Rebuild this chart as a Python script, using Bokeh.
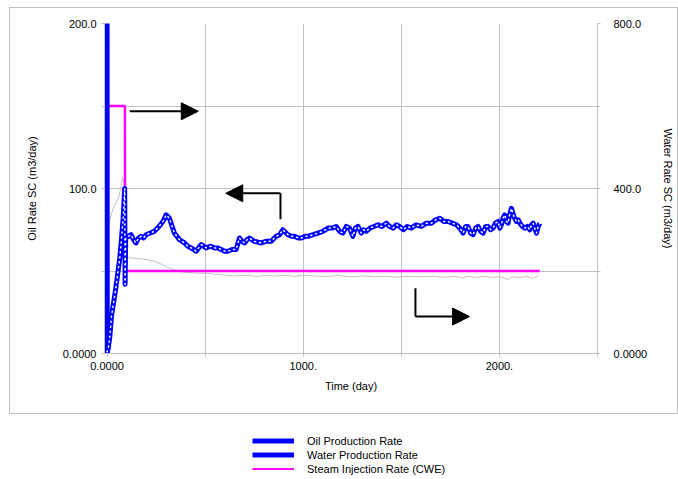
from bokeh.plotting import figure
from bokeh.layouts import column
from bokeh.models import (Range1d, LinearAxis, FixedTicker, Arrow, NormalHead,
                          Legend, LegendItem)
from bokeh.embed import file_html
from bokeh.resources import INLINE

# Oil production rate SC, m3/day (left axis)
oil_days = [0, 6, 14, 23, 40, 52, 65, 74, 82, 90, 92, 95, 108, 122, 135, 148, 160, 173,
            186, 199, 220, 241, 265, 285, 301, 318, 343, 369, 395, 412, 429, 454, 467,
            480, 505, 527, 548, 565, 582, 599, 616, 637, 658, 675, 688, 701, 714, 726,
            750, 786, 810, 837, 862, 880, 896, 922, 940, 956, 975, 990, 1010, 1024,
            1050, 1075, 1100, 1126, 1147, 1168, 1185, 1202, 1220, 1236, 1253, 1266,
            1279, 1296, 1308, 1321, 1340, 1360, 1381, 1400, 1423, 1440, 1458, 1475,
            1491, 1510, 1530, 1551, 1575, 1602, 1628, 1653, 1675, 1696, 1717, 1738,
            1760, 1781, 1798, 1815, 1828, 1840, 1853, 1866, 1879, 1891, 1904, 1917,
            1930, 1942, 1955, 1968, 1980, 1993, 2002, 2010, 2018, 2027, 2036, 2044,
            2052, 2061, 2074, 2087, 2096, 2104, 2117, 2130, 2143, 2155, 2164, 2172,
            2180, 2189, 2198, 2206]
oil_rate = [1, 3, 10, 23, 36, 46, 58, 70, 82, 100, 42, 70, 71, 72, 69, 67, 70, 71,
            70, 72, 73, 74, 77, 80, 84, 82, 73, 69, 67, 65, 64, 62, 64,
            66, 64, 65, 64, 64, 63, 62, 62, 63, 63, 70, 68, 67, 69, 70,
            68, 67, 68, 68, 71, 72, 75, 72, 71, 71, 70, 70, 71, 71,
            72, 73, 74, 76, 76, 77, 74, 73, 77, 76, 71, 76,
            77, 73, 75, 74, 76, 77, 78, 77, 79, 77, 76, 78,
            77, 75, 77, 76, 78, 77, 79, 79, 81, 82, 80, 80,
            79, 78, 76, 73, 77, 77, 73, 72, 76, 77, 74, 73,
            77, 77, 75, 76, 79, 80, 76, 78, 82, 84, 80, 79,
            84, 88, 83, 80, 81, 79, 77, 76, 77, 75, 78, 79,
            76, 73, 77, 79]

# Water production rate SC, m3/day (right axis)
water_days = [0.0, 0.0, 1.0]
water_rate = [0.0, 1000.0, 0.0]

# Steam injection rate (CWE), m3/day (right axis)
steam_days = [0, 91, 92, 2206]
steam_rate = [600, 600, 200, 200]

# Thin grey trace, m3/day (right axis)
trace_days = [11, 20, 32, 45, 57, 68, 79, 88, 92, 120, 160, 200, 241, 280, 310, 343,
              380, 450, 520, 600, 650, 700, 760, 800, 860, 900, 960, 1000, 1060, 1120,
              1180, 1240, 1300, 1360, 1420, 1480, 1540, 1600, 1660, 1720, 1780, 1810,
              1840, 1880, 1920, 1960, 2000, 2030, 2045, 2060, 2100, 2140, 2170, 2200]
trace_rate = [316, 336, 352, 364, 376, 396, 426, 412, 232, 232, 230, 228, 224, 216, 208,
              203, 198, 195, 194, 190, 188, 190, 187, 189, 188, 190, 187, 190, 188, 187,
              189, 186, 188, 186, 187, 185, 187, 186, 187, 185, 187, 183, 187, 184, 187,
              184, 187, 182, 179, 186, 184, 187, 182, 188]

# Axis ticks and their labels
time_ticks = [0, 500, 1000, 1500, 2000, 2500]
time_labels = {0: "0.0000", 500: "", 1000: "1000.", 1500: "", 2000: "2000.", 2500: ""}
oil_ticks = [0, 50, 100, 150, 200]
oil_labels = {0: "0.0000", 50: "", 100: "100.0", 150: "", 200: "200.0"}
water_ticks = [0, 200, 400, 600, 800]
water_labels = {0: "0.0000", 200: "", 400: "400.0", 600: "", 800: "800.0"}

legend_names = ["Oil Production Rate", "Water Production Rate",
                "Steam Injection Rate (CWE)"]

# Annotation arrows (days, left-axis units); the head sits on the last point
arrow_paths = [
    ([116, 465], [146.8, 146.8]),
    ([884, 884, 605], [81.4, 97.1, 97.1]),
    ([1572, 1572, 1848], [39.6, 22.4, 22.4]),
]

FONT = "Liberation Sans"
GRID = "#c0c0c0"
BLUE = "#0000ff"
MAGENTA = "#ff00ff"

OIL_STYLE = dict(line_color=BLUE, line_width=5)
WATER_STYLE = dict(line_color=BLUE, line_width=5)
STEAM_STYLE = dict(line_color=MAGENTA, line_width=2.5)

p = figure(width=669, height=407, output_backend="svg", toolbar_location=None,
           x_range=Range1d(-13, 2500), y_range=Range1d(0, 200),
           min_border_left=94, min_border_right=82, min_border_top=15,
           min_border_bottom=62, background_fill_color="white",
           border_fill_color="white", margin=(7, 0, 0, 9),
           styles={"border": "1px solid #c0c0c0", "box-sizing": "border-box"})
p.outline_line_color = None
p.extra_y_ranges = {"water": Range1d(0, 800)}

# grid
p.xgrid.ticker = FixedTicker(ticks=time_ticks)
p.ygrid.ticker = FixedTicker(ticks=oil_ticks)
for g in (p.xgrid, p.ygrid):
    g.grid_line_color = GRID
    g.grid_line_width = 1

# bottom axis
xa = p.xaxis[0]
xa.ticker = FixedTicker(ticks=time_ticks)
xa.major_label_overrides = time_labels
xa.axis_label = "Time (day)"
xa.major_label_standoff = 5
xa.axis_label_standoff = 7

# left axis
ya = p.yaxis[0]
ya.ticker = FixedTicker(ticks=oil_ticks)
ya.major_label_overrides = oil_labels
ya.axis_label = "Oil Rate SC (m3/day)"
ya.major_label_standoff = 5
ya.axis_label_standoff = 22

# right axis
ra = LinearAxis(y_range_name="water", ticker=FixedTicker(ticks=water_ticks),
                major_label_overrides=water_labels,
                axis_label="Water Rate SC (m3/day)")
ra.major_label_standoff = 13
ra.axis_label_standoff = 12
p.add_layout(ra, "right")

for ax in (xa, ya, ra):
    ax.axis_line_color = GRID
    ax.major_tick_line_color = GRID
    ax.major_tick_in = 0
    ax.major_tick_out = 3
    ax.minor_tick_line_color = None
    ax.major_label_text_font = FONT
    ax.major_label_text_font_size = "11px"
    ax.major_label_text_color = "black"
    ax.axis_label_text_font = FONT
    ax.axis_label_text_font_size = "11px"
    ax.axis_label_text_font_style = "normal"
    ax.axis_label_text_color = "black"

# series
p.line(trace_days, trace_rate, y_range_name="water", line_color="#c0c0c0",
       line_width=1)
p.line(steam_days, steam_rate, y_range_name="water", **STEAM_STYLE)
p.line(water_days, water_rate, y_range_name="water", **WATER_STYLE)
p.line(oil_days, oil_rate, line_join="round", **OIL_STYLE)
# white dotted core along the oil curve
p.line(oil_days, oil_rate, line_color="white", line_width=1.5,
       line_dash="1 4", line_cap="round", line_join="round")

# arrows
for xs, ys in arrow_paths:
    if len(xs) > 2:
        p.line(xs[:-1], ys[:-1], line_color="black", line_width=2,
               line_join="miter")
    p.add_layout(Arrow(x_start=xs[-2], y_start=ys[-2], x_end=xs[-1], y_end=ys[-1],
                       line_color="black", line_width=2,
                       end=NormalHead(size=17, fill_color="black",
                                      line_color="black", line_width=1)))

# legend strip below the chart box; its ranges keep the series out of view so
# only the legend keys show
lg = figure(width=678, height=65, output_backend="svg", toolbar_location=None,
            x_range=Range1d(0, 678), y_range=Range1d(-20, -10), min_border=0,
            background_fill_color="white", border_fill_color="white")
lg.axis.visible = False
lg.grid.visible = False
lg.outline_line_color = None
oil_key = lg.line(oil_days, oil_rate, **OIL_STYLE)
water_key = lg.line(water_days, water_rate, **WATER_STYLE)
steam_key = lg.line(steam_days, steam_rate, line_color=MAGENTA, line_width=2)

legend = Legend(items=[LegendItem(label=legend_names[0], renderers=[oil_key]),
                       LegendItem(label=legend_names[1], renderers=[water_key]),
                       LegendItem(label=legend_names[2], renderers=[steam_key])],
                location=(158, 4), orientation="vertical",
                border_line_color=None, background_fill_alpha=0,
                padding=0, margin=0, spacing=1, label_height=13,
                glyph_height=13, glyph_width=42, label_standoff=13,
                label_text_font=FONT, label_text_font_size="11px",
                label_text_color="black")
lg.add_layout(legend)

page = column(p, lg, spacing=0)
open("out.html", "w").write(file_html(page, INLINE))
